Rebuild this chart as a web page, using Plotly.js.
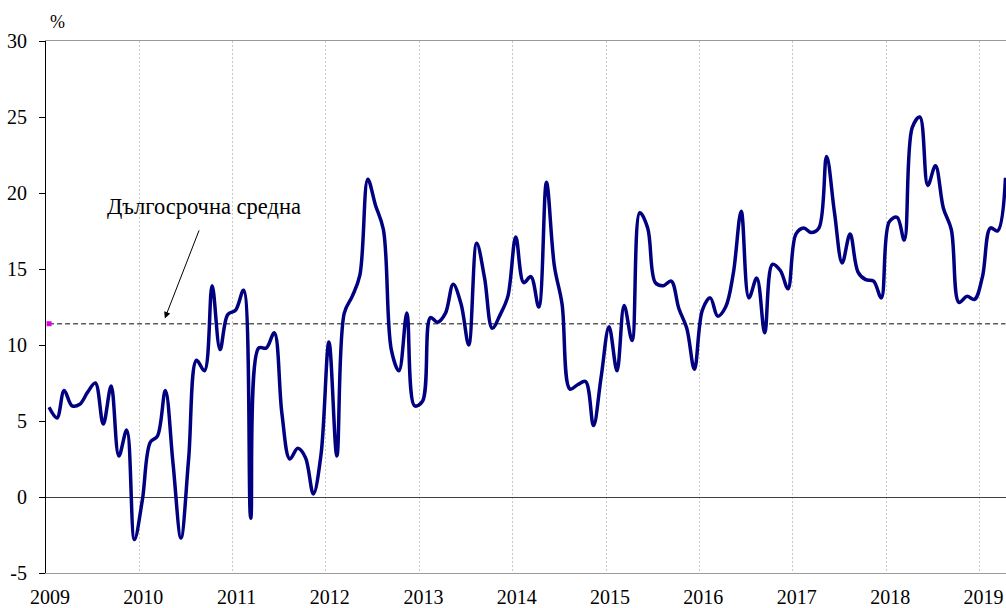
<!DOCTYPE html>
<html>
<head>
<meta charset="utf-8">
<script src="https://cdn.plot.ly/plotly-3.0.1.min.js"></script>
<style>html,body{margin:0;padding:0;background:#fff;}#chart{width:1006px;height:608px;}</style>
</head>
<body>
<div id="chart"></div>
<script>
// Monthly series, Jan 2009 .. Apr 2019 (%)
const startYear = 2009;
const rate = [
  5.9, 5.2, 7.0, 6.0, 6.1, 6.9, 7.5, 4.8, 7.3, 2.7, 4.4, -2.8,
  -0.2, 3.6, 4.0, 7.0, 2.2, -2.7, 2.5, 9.0, 8.3, 13.9, 9.7, 12.0,
  12.3, 13.6, -1.4, 9.8, 9.8, 10.8, 5.5, 2.5, 3.2, 2.6, 0.2, 2.8,
  10.2, 2.7, 12.1, 13.2, 14.6, 20.9, 19.2, 17.6, 9.7, 8.3, 12.1, 6.0,
  6.3, 11.8, 11.5, 12.1, 14.0, 12.7, 10.0, 16.7, 14.4, 11.1, 12.0, 13.2,
  17.1, 14.1, 14.5, 12.5, 20.7, 15.2, 12.7, 7.1, 7.4, 7.6, 4.7, 7.9,
  11.2, 8.3, 12.6, 10.3, 18.7, 17.7, 14.1, 13.9, 14.2, 12.4, 11.1, 8.4,
  12.3, 13.1, 11.9, 12.5, 14.7, 18.8, 13.1, 14.4, 10.8, 15.3, 14.9, 13.7,
  17.3, 17.7, 17.4, 17.7, 22.4, 18.7, 15.4, 17.3, 14.8, 14.3, 14.2, 13.1,
  18.1, 18.4, 16.9, 24.3, 25.0, 20.5, 21.8, 19.0, 17.6, 12.8, 13.2, 13.0,
  14.5, 17.7, 17.5, 21.0
];
const longTermMean = 11.4;
const yearLabels = ["2009","2010","2011","2012","2013","2014","2015","2016","2017","2018","2019"];
const yTicks = [-5, 0, 5, 10, 15, 20, 25, 30];
const yTickText = ["-5", "0", "5", "10", "15", "20", "25", "30"];
const meanLabel = "Дългосрочна средна";
const unitLabel = "%";

function pad(n){ return (n < 10 ? "0" : "") + n; }
const dates = rate.map((v, i) => {
  const y = startYear + Math.floor(i / 12);
  const m = (i % 12) + 1;
  return y + "-" + pad(m) + "-13";
});

const font = "'Liberation Serif', 'Times New Roman', serif";

const traces = [
  {
    x: [dates[0], dates[dates.length - 1]],
    y: [longTermMean, longTermMean],
    mode: "lines",
    line: {color: "#5a5a5a", width: 1.5, dash: "5px,3px"},
    hoverinfo: "skip"
  },
  {
    x: [dates[0]],
    y: [longTermMean],
    mode: "markers",
    marker: {symbol: "square", size: 5, color: "#e000e0"},
    hoverinfo: "skip"
  },
  {
    x: dates,
    y: rate,
    mode: "lines",
    line: {color: "#000080", width: 3.5, shape: "spline", smoothing: 1}
  }
];

const layout = {
  width: 1006,
  height: 608,
  margin: {l: 46, r: 0, t: 41, b: 35, pad: 0},
  paper_bgcolor: "#ffffff",
  plot_bgcolor: "#ffffff",
  showlegend: false,
  font: {family: font, size: 20, color: "#000"},
  xaxis: {
    type: "date",
    range: [startYear + "-01-01", "2019-04-15"],
    tickmode: "array",
    tickvals: yearLabels.map(y => y + "-01-01"),
    ticktext: yearLabels,
    ticks: "",
    ticklabelshift: 4,
    ticklabelstandoff: 6,
    tickfont: {family: font, size: 20, color: "#000"},
    showgrid: true,
    gridcolor: "#c8c8c8",
    gridwidth: 1,
    griddash: "2px,2px",
    showline: true,
    linecolor: "#9a9a9a",
    linewidth: 1,
    mirror: true,
    zeroline: false,
    fixedrange: true
  },
  yaxis: {
    range: [-5, 30],
    tickmode: "array",
    tickvals: yTicks,
    ticktext: yTickText,
    ticks: "outside",
    ticklen: 6,
    tickcolor: "#000",
    tickwidth: 1,
    ticklabelstandoff: 8,
    tickfont: {family: font, size: 20, color: "#000"},
    showgrid: false,
    zeroline: true,
    zerolinecolor: "#404040",
    zerolinewidth: 1,
    showline: true,
    linecolor: "#000",
    linewidth: 1,
    fixedrange: true
  },
  annotations: [
    {
      xref: "paper", yref: "paper",
      x: 0.0115, y: 1.036,
      text: unitLabel, showarrow: false,
      xanchor: "center", yanchor: "middle",
      font: {family: font, size: 18, color: "#000"}
    },
    {
      xref: "paper", yref: "paper",
      x: 0.1646, y: 0.688,
      text: meanLabel, showarrow: false,
      xanchor: "center", yanchor: "middle",
      font: {family: font, size: 22.5, color: "#000"}
    },
    {
      xref: "x", yref: "y",
      x: "2010-04-11", y: 11.75,
      ax: 35, ay: -90,
      text: " ", showarrow: true,
      arrowhead: 2, arrowsize: 1.3, arrowwidth: 1, arrowcolor: "#000",
      standoff: 0,
      font: {size: 1}
    }
  ]
};

Plotly.newPlot("chart", traces, layout, {displayModeBar: false, staticPlot: true});
</script>
</body>
</html>
